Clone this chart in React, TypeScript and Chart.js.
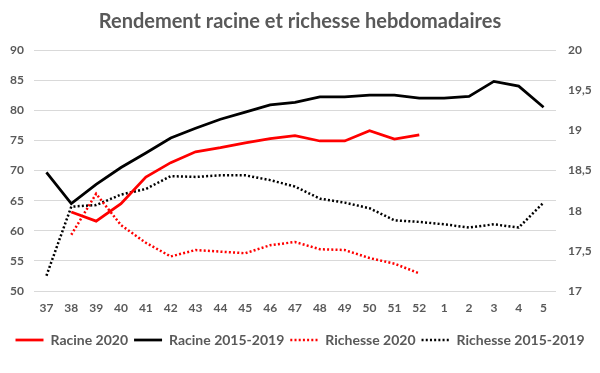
import React, { useEffect, useRef } from "react";
import { Chart, registerables } from "chart.js";

Chart.register(...registerables);

const weeks = ["37","38","39","40","41","42","43","44","45","46","47","48","49","50","51","52","1","2","3","4","5"];
const racine2020 = [null, 63.1, 61.6, 64.5, 68.9, 71.3, 73.1, 73.8, 74.6, 75.3, 75.8, 74.9, 74.9, 76.6, 75.2, 75.9, null, null, null, null, null];
const racine1519 = [69.7, 64.5, 67.7, 70.5, 72.9, 75.4, 77.0, 78.5, 79.7, 80.9, 81.3, 82.2, 82.2, 82.5, 82.5, 82.0, 82.0, 82.3, 84.8, 84.0, 80.5];
const richesse2020 = [null, 17.70, 18.21, 17.82, 17.60, 17.43, 17.51, 17.49, 17.47, 17.57, 17.61, 17.52, 17.51, 17.41, 17.34, 17.22, null, null, null, null, null];
const richesse1519 = [17.19, 18.05, 18.07, 18.2, 18.27, 18.43, 18.42, 18.44, 18.44, 18.38, 18.30, 18.15, 18.10, 18.03, 17.88, 17.86, 17.83, 17.79, 17.83, 17.79, 18.10];

const FONT = "Lato";
const GREY = "#595959";
const DOTS = [2, 2.2];

export default function App() {
  const ref = useRef<HTMLCanvasElement>(null);
  useEffect(() => {
    if (!ref.current) return;
    const chart = new Chart(ref.current, {
      type: "line",
      data: {
        labels: weeks,
        datasets: [
          { label: "Racine 2020", data: racine2020, borderColor: "#ff0000", backgroundColor: "#ff0000", borderWidth: 2.75, pointRadius: 0, yAxisID: "y" },
          { label: "Racine 2015-2019", data: racine1519, borderColor: "#000000", backgroundColor: "#000000", borderWidth: 2.75, pointRadius: 0, yAxisID: "y" },
          { label: "Richesse 2020", data: richesse2020, borderColor: "#ff0000", backgroundColor: "#ff0000", borderWidth: 2.5, borderDash: DOTS, pointRadius: 0, yAxisID: "y1" },
          { label: "Richesse 2015-2019", data: richesse1519, borderColor: "#000000", backgroundColor: "#000000", borderWidth: 2.5, borderDash: DOTS, pointRadius: 0, yAxisID: "y1" },
        ],
      },
      options: {
        responsive: false,
        animation: false,
        layout: { padding: { left: 0, right: 0, top: 0, bottom: 16 } },
        plugins: {
          title: {
            display: true,
            text: "Rendement racine et richesse hebdomadaires",
            color: GREY,
            font: { family: FONT, size: 20, weight: "bold", lineHeight: 1.2 },
            padding: { top: 10, bottom: 16 },
          },
          legend: {
            position: "bottom",
            align: "center",
            labels: {
              usePointStyle: true,
              pointStyle: "line",
              pointStyleWidth: 28,
              boxHeight: 14,
              padding: 6,
              color: GREY,
              font: { family: FONT, size: 14, weight: "bold" },
              generateLabels: (c: any) => {
                const items = Chart.defaults.plugins.legend.labels.generateLabels(c);
                items.forEach((it: any) => {
                  const ds: any = c.data.datasets[it.datasetIndex];
                  it.lineDash = ds.borderDash || [];
                  it.lineWidth = ds.borderWidth;
                  it.strokeStyle = ds.borderColor;
                  it.pointStyle = "line";
                });
                return items;
              },
            },
          },
          tooltip: { enabled: false },
        },
        scales: {
          x: {
            offset: true,
            grid: { display: false, drawTicks: false },
            border: { display: false },
            ticks: { color: GREY, font: { family: FONT, size: 12, weight: "bold" }, padding: 10, maxRotation: 0, autoSkip: false },
            afterFit: (s: any) => { s.height = 36; },
          },
          y: {
            position: "left",
            min: 50,
            max: 90,
            ticks: { stepSize: 5, color: GREY, font: { family: FONT, size: 12, weight: "bold" }, padding: 10 },
            grid: { color: "#d9d9d9", lineWidth: 1, drawTicks: false },
            border: { display: false },
            afterFit: (s: any) => { s.width = 34; },
          },
          y1: {
            position: "right",
            min: 17,
            max: 20,
            ticks: {
              stepSize: 0.5,
              color: GREY,
              font: { family: FONT, size: 12, weight: "bold" },
              padding: 12,
              callback: (v: any) => String(v).replace(".", ","),
            },
            grid: { display: false, drawTicks: false },
            border: { display: false },
            afterFit: (s: any) => { s.width = 44; },
          },
        },
      },
    });
    return () => chart.destroy();
  }, []);
  return (
    <div style={{ position: "fixed", left: 0, top: 0, width: 600, height: 373, background: "#fff" }}>
      <canvas ref={ref} width={600} height={373} style={{ display: "block" }} />
    </div>
  );
}
